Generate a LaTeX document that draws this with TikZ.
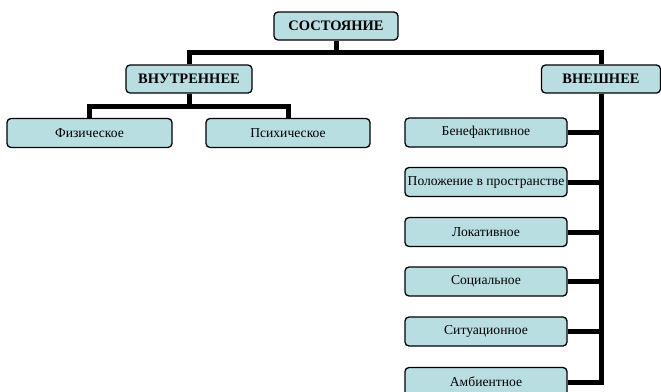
\documentclass[tikz,border=0pt]{standalone}
\usepackage{fontspec}
\setmainfont{Liberation Serif}
\usetikzlibrary{positioning}
\definecolor{boxfill}{RGB}{184,222,226}

\begin{document}
\begin{tikzpicture}[x=1pt, y=-1pt,
    cat/.style={draw, line width=1.3pt, rounded corners=4pt, fill=boxfill, minimum height=29pt, inner sep=0pt, align=center, font=\fontsize{13.6}{16}\selectfont},
    head/.style={cat, minimum height=28pt, font=\fontsize{14.5}{16}\selectfont\bfseries},
    link/.style={line width=5pt}
]
\useasboundingbox (0,0) rectangle (661,391);
\node[head, minimum width=124pt] (state) at (336,26) {СОСТОЯНИЕ};
\node[head, minimum width=126pt] (inner) at (189,79) {ВНУТРЕННЕЕ};
\node[head, minimum width=119pt] (outer) at (601,79) {ВНЕШНЕЕ};

\node[cat, minimum width=165pt] (phys) at (89.5,133) {Физическое};
\node[cat, minimum width=164pt] (psych) at (288,133) {Психическое};

\node[cat, minimum width=162pt] (benef) at (486,132.5) {Бенефактивное};
\node[cat, minimum width=162pt] (pos) at (486,182) {Положение в пространстве};
\node[cat, minimum width=162pt] (loc) at (486,232) {Локативное};
\node[cat, minimum width=162pt] (soc) at (486,281.5) {Социальное};
\node[cat, minimum width=162pt] (sit) at (486,331.5) {Ситуационное};
\node[cat, minimum width=162pt] (amb) at (486,382) {Амбиентное};

\coordinate (bus) at (336,52);
\coordinate (innerbus) at (189,106);

\draw[link] (state.south) -- (bus) -| (inner.north);
\draw[link] (bus) -| (outer.north);
\draw[link] (inner.south) -- (innerbus) -| (phys.north);
\draw[link] (innerbus) -| (psych.north);
\draw[link] (outer.south) |- (amb.east);
\foreach \n in {benef,pos,loc,soc,sit}
    \draw[link] (outer.south) |- (\n.east);
\end{tikzpicture}
\end{document}
